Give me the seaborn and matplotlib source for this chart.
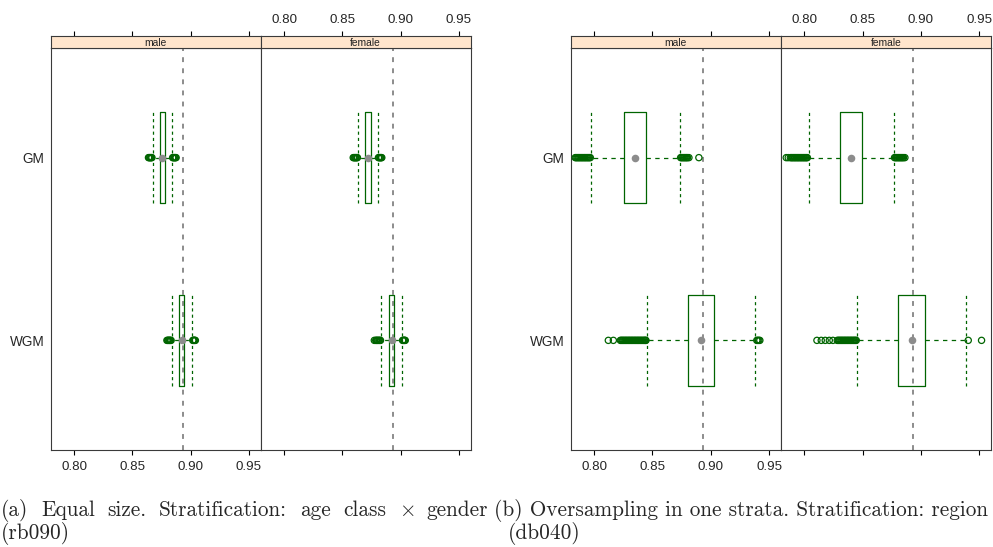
import numpy as np
import pandas as pd
import matplotlib
matplotlib.use("Agg")
import matplotlib.pyplot as plt
import seaborn as sns

ROWS = ["GM", "WGM"]
ROW_POS = [2, 1]
SEXES = ["male", "female"]
TICKS = [0.80, 0.85, 0.90, 0.95]
TICK_LABELS = ["0.80", "0.85", "0.90", "0.95"]
REF_LINE = 0.893

# box stats per row (GM, WGM): whisker low, q1, median, q3, whisker high
a_male_box = [[0.8675, 0.8735, 0.8755, 0.8780, 0.8840],
              [0.8840, 0.8900, 0.8926, 0.8946, 0.9014]]
a_female_box = [[0.8636, 0.8698, 0.8718, 0.8744, 0.8803],
                [0.8832, 0.8897, 0.8923, 0.8946, 0.9012]]
b_male_box = [[0.7974, 0.8256, 0.8350, 0.8447, 0.8732],
              [0.8450, 0.8801, 0.8917, 0.9028, 0.9376]]
b_female_box = [[0.8037, 0.8305, 0.8400, 0.8493, 0.8767],
                [0.8450, 0.8803, 0.8926, 0.9037, 0.9390]]

# outliers
a_male_out_gm = [0.8638, 0.8644, 0.8650, 0.8657, 0.8662, 0.8668,
                 0.8845, 0.8851, 0.8858, 0.8863, 0.8869, 0.8875]
a_male_out_wgm = [0.8796, 0.8803, 0.8808, 0.8815, 0.8820, 0.8826, 0.8832,
                  0.9018, 0.9024, 0.9029, 0.9035, 0.9040]
a_female_out_gm = [0.8593, 0.8599, 0.8606, 0.8611, 0.8617, 0.8624, 0.8629,
                   0.8809, 0.8815, 0.8822, 0.8827, 0.8833, 0.8838]
a_female_out_wgm = [0.8774, 0.8786, 0.8792, 0.8799, 0.8805, 0.8813, 0.8820, 0.8827,
                    0.9016, 0.9022, 0.9029, 0.9034, 0.9039]
b_male_out_gm = [0.7839, 0.7847, 0.7856, 0.7865, 0.7873, 0.7882, 0.7891, 0.7899,
                 0.7908, 0.7917, 0.7925, 0.7934, 0.7943, 0.7951, 0.7960, 0.7968,
                 0.8741, 0.8749, 0.8758, 0.8767, 0.8775, 0.8784, 0.8792, 0.8800,
                 0.8812, 0.8897]
b_male_out_wgm = [0.8122, 0.8165, 0.8225, 0.8233, 0.8242, 0.8250, 0.8259, 0.8268,
                  0.8276, 0.8285, 0.8294, 0.8302, 0.8311, 0.8320, 0.8328, 0.8337,
                  0.8346, 0.8354, 0.8363, 0.8372, 0.8380, 0.8389, 0.8398, 0.8406,
                  0.8415, 0.8424, 0.8432, 0.8440, 0.8444,
                  0.9393, 0.9401, 0.9410, 0.9419]
b_female_out_gm = [0.7845, 0.7862, 0.7880, 0.7889, 0.7897, 0.7906, 0.7915, 0.7923,
                   0.7932, 0.7941, 0.7949, 0.7958, 0.7967, 0.7975, 0.7984, 0.7993,
                   0.8001, 0.8010, 0.8018, 0.8026,
                   0.8773, 0.8782, 0.8790, 0.8799, 0.8808, 0.8816, 0.8825, 0.8833,
                   0.8842, 0.8850, 0.8862]
b_female_out_wgm = [0.8108, 0.8145, 0.8179, 0.8214, 0.8245, 0.8282, 0.8291, 0.8299,
                    0.8308, 0.8317, 0.8325, 0.8334, 0.8343, 0.8351, 0.8360, 0.8369,
                    0.8377, 0.8386, 0.8395, 0.8403, 0.8412, 0.8421, 0.8429, 0.8438,
                    0.8445, 0.9405, 0.9519]

sns.set_style("white")
plt.rcParams["font.family"] = ["Liberation Sans", "DejaVu Sans"]
plt.rcParams["mathtext.fontset"] = "cm"

W, H = 993, 547
GREEN = "#006400"
SPINE = "#3a3a3a"
XLIM = (0.78, 0.96)
fig = plt.figure(figsize=(W / 100, H / 100), dpi=100)


def rect(x0, y0, x1, y1):
    return [x0 / W, 1 - y1 / H, (x1 - x0) / W, (y1 - y0) / H]


def draw_panel(x0, x1, stats, out_gm, out_wgm, sex):
    ax = fig.add_axes(rect(x0, 48, x1, 450))
    ax.axvline(REF_LINE, color="#8c8c8c", lw=1.4, ls=(0, (2.5, 3.2)), zorder=1)
    bstats = [dict(whislo=s[0], q1=s[1], med=s[2], q3=s[3], whishi=s[4])
              for s in stats]
    ax.bxp(bstats, positions=ROW_POS, widths=0.5, capwidths=0.5,
           orientation="horizontal", showfliers=False,
           boxprops=dict(color=GREEN, lw=0.9),
           whiskerprops=dict(color=GREEN, lw=0.9, ls=(0, (3.5, 3.5))),
           capprops=dict(color=GREEN, lw=0.9, ls=(0, (2.5, 2.5))),
           medianprops=dict(lw=0))
    out = pd.DataFrame({
        "value": out_gm + out_wgm,
        "pos": [ROW_POS[0]] * len(out_gm) + [ROW_POS[1]] * len(out_wgm),
    })
    sns.scatterplot(data=out, x="value", y="pos", ax=ax, s=20, color=GREEN,
                    linewidth=0.9, legend=False, zorder=3)
    pts = ax.collections[-1]
    pts.set_facecolor("none")
    pts.set_edgecolor(GREEN)
    med = pd.DataFrame({"value": [s[2] for s in stats], "pos": ROW_POS})
    sns.scatterplot(data=med, x="value", y="pos", ax=ax, s=30, color="#8c8c8c",
                    linewidth=0, legend=False, zorder=4)
    ax.set_xlim(XLIM)
    ax.set_ylim(0.4, 2.6)
    ax.set_xlabel("")
    ax.set_ylabel("")
    ax.set_xticks(TICKS, TICK_LABELS if sex == "male" else [])
    ax.tick_params(axis="x", bottom=True, direction="out", length=3.6,
                   width=0.8, color="black", labelsize=9.6, pad=4)
    ax.set_yticks(ROW_POS, ROWS if sex == "male" else [])
    ax.tick_params(axis="y", left=False, length=0, labelsize=9.8, pad=4.5)
    for sp in ax.spines.values():
        sp.set_color(SPINE)
        sp.set_linewidth(0.8)

    sax = fig.add_axes(rect(x0, 36, x1, 48))
    sax.set_facecolor("#ffe5cc")
    sax.set_xlim(XLIM)
    sax.set_ylim(0, 1)
    sax.set_yticks([])
    sax.xaxis.tick_top()
    sax.set_xticks(TICKS, TICK_LABELS if sex == "female" else [])
    sax.tick_params(axis="x", top=True, bottom=False, direction="out",
                    length=3.6, width=0.8, color="black", labelsize=9.6, pad=3.5)
    sax.text(0.5, 0.45, sex, transform=sax.transAxes, ha="center", va="center",
             fontsize=7.4, color="#222222")
    for sp in sax.spines.values():
        sp.set_color(SPINE)
        sp.set_linewidth(0.8)


draw_panel(50.7, 260.7, a_male_box, a_male_out_gm, a_male_out_wgm, "male")
draw_panel(260.7, 470.7, a_female_box, a_female_out_gm, a_female_out_wgm, "female")
draw_panel(570.7, 781, b_male_box, b_male_out_gm, b_male_out_wgm, "male")
draw_panel(781, 991, b_female_box, b_female_out_gm, b_female_out_wgm, "female")

# captions (LaTeX-like serif, left one justified)
CAP = dict(family=["cmr10", "DejaVu Serif"], fontsize=15.3, va="baseline")
renderer = fig.canvas.get_renderer()
words = ["(a)", "Equal", "size.", "Stratification:", "age", "class",
         "$\\times$", "gender"]
texts = [fig.text(0, 1 - 516 / H, w, **CAP) for w in words]
widths = [t.get_window_extent(renderer).width for t in texts]
x_start, x_end = 1, 488
gap = (x_end - x_start - sum(widths)) / (len(words) - 1)
x = x_start
for t, w in zip(texts, widths):
    t.set_x(x / W)
    x += w + gap
fig.text(1 / W, 1 - 539 / H, "(rb090)", **CAP)
fig.text(494 / W, 1 - 516 / H,
         "(b) Oversampling in one strata. Stratification: region", **CAP)
fig.text(508 / W, 1 - 539 / H, "(db040)", **CAP)

fig.savefig("out.png", dpi=100)
